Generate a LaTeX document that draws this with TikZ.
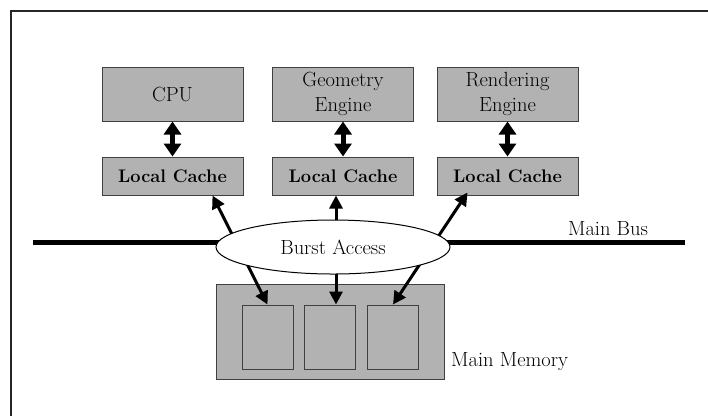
\documentclass[tikz,border=0pt]{standalone}
\usepackage{fontspec}
\setmainfont{Latin Modern Roman}
\usetikzlibrary{arrows.meta,shapes.geometric,calc}
\definecolor{boxgray}{gray}{0.70}
\definecolor{edgegray}{gray}{0.25}
\begin{document}
\begin{tikzpicture}[x=1pt,y=-1pt,
  font=\fontsize{20.5}{24}\selectfont,
  unitbox/.style={draw=edgegray,fill=boxgray,line width=1pt,inner sep=0pt,
    minimum width=141pt,minimum height=54pt,align=center,text=black},
  cachebox/.style={draw=edgegray,fill=boxgray,line width=1pt,inner sep=0pt,
    minimum width=141pt,minimum height=38pt,text=black,font=\fontsize{18.2}{21}\selectfont\bfseries},
  bankbox/.style={draw=edgegray,fill=boxgray,line width=1pt,inner sep=0pt,
    minimum width=51pt,minimum height=64pt},
  twoway/.style={line width=5pt,{Triangle[width=17pt,length=13pt]}-{Triangle[width=17pt,length=13pt]}},
  access/.style={line width=3pt,{Triangle[width=13pt,length=13pt]}-{Triangle[width=13pt,length=13pt]}},
  lbl/.style={text=black,inner sep=0pt}
]
\useasboundingbox (0,0) rectangle (708,416);
\fill[white] (0,0) rectangle (708,416);

% frame edges
\draw[line width=2pt,black!85] (11,416) -- (11,11) -- (708,11);

% processing units
\node[unitbox] (cpu) at (172.5,94) {CPU};
\node[unitbox] (geo) at (343,94) {Geometry\\[1pt]Engine};
\node[unitbox] (ren) at (507.5,94) {Rendering\\[1pt]Engine};

% local caches
\node[cachebox] (lc1) at (172.5,176) {Local Cache};
\node[cachebox] (lc2) at (343,176) {Local Cache};
\node[cachebox] (lc3) at (507.5,176) {Local Cache};

% unit <-> cache
\draw[twoway] (cpu.south) -- (lc1.north);
\draw[twoway] (geo.south) -- (lc2.north);
\draw[twoway] (ren.south) -- (lc3.north);

% main memory and its banks
\node[draw=edgegray,fill=boxgray,line width=1pt,minimum width=228pt,minimum height=95pt,inner sep=0pt]
  (mem) at (330,331.5) {};
\node[bankbox] (m1) at (267.5,337) {};
\node[bankbox] (m2) at (329.5,337) {};
\node[bankbox] (m3) at (393,337) {};
\node[lbl,anchor=west] (memlbl) at (451,362) {Main Memory};

% main bus
\coordinate (busL) at (33,242);
\coordinate (busR) at (685,242);
\draw[line width=5pt,black] (busL) -- (busR);
\node[lbl] (buslbl) at (608,229) {Main Bus};

% cache <-> memory transfers
\draw[access] ([xshift=40pt]lc1.south) -- (m1.north);
\draw[access] ([xshift=-7pt]lc2.south) -- ([xshift=6.5pt]m2.north);
\draw[access] ([xshift=-40pt,yshift=3pt]lc3.south) -- (m3.north);

% burst access
\node[ellipse,draw=black,fill=white,line width=1pt,minimum width=234pt,minimum height=54pt,inner sep=0pt,text=black]
  (burst) at (333,247) {Burst Access};
\end{tikzpicture}
\end{document}
